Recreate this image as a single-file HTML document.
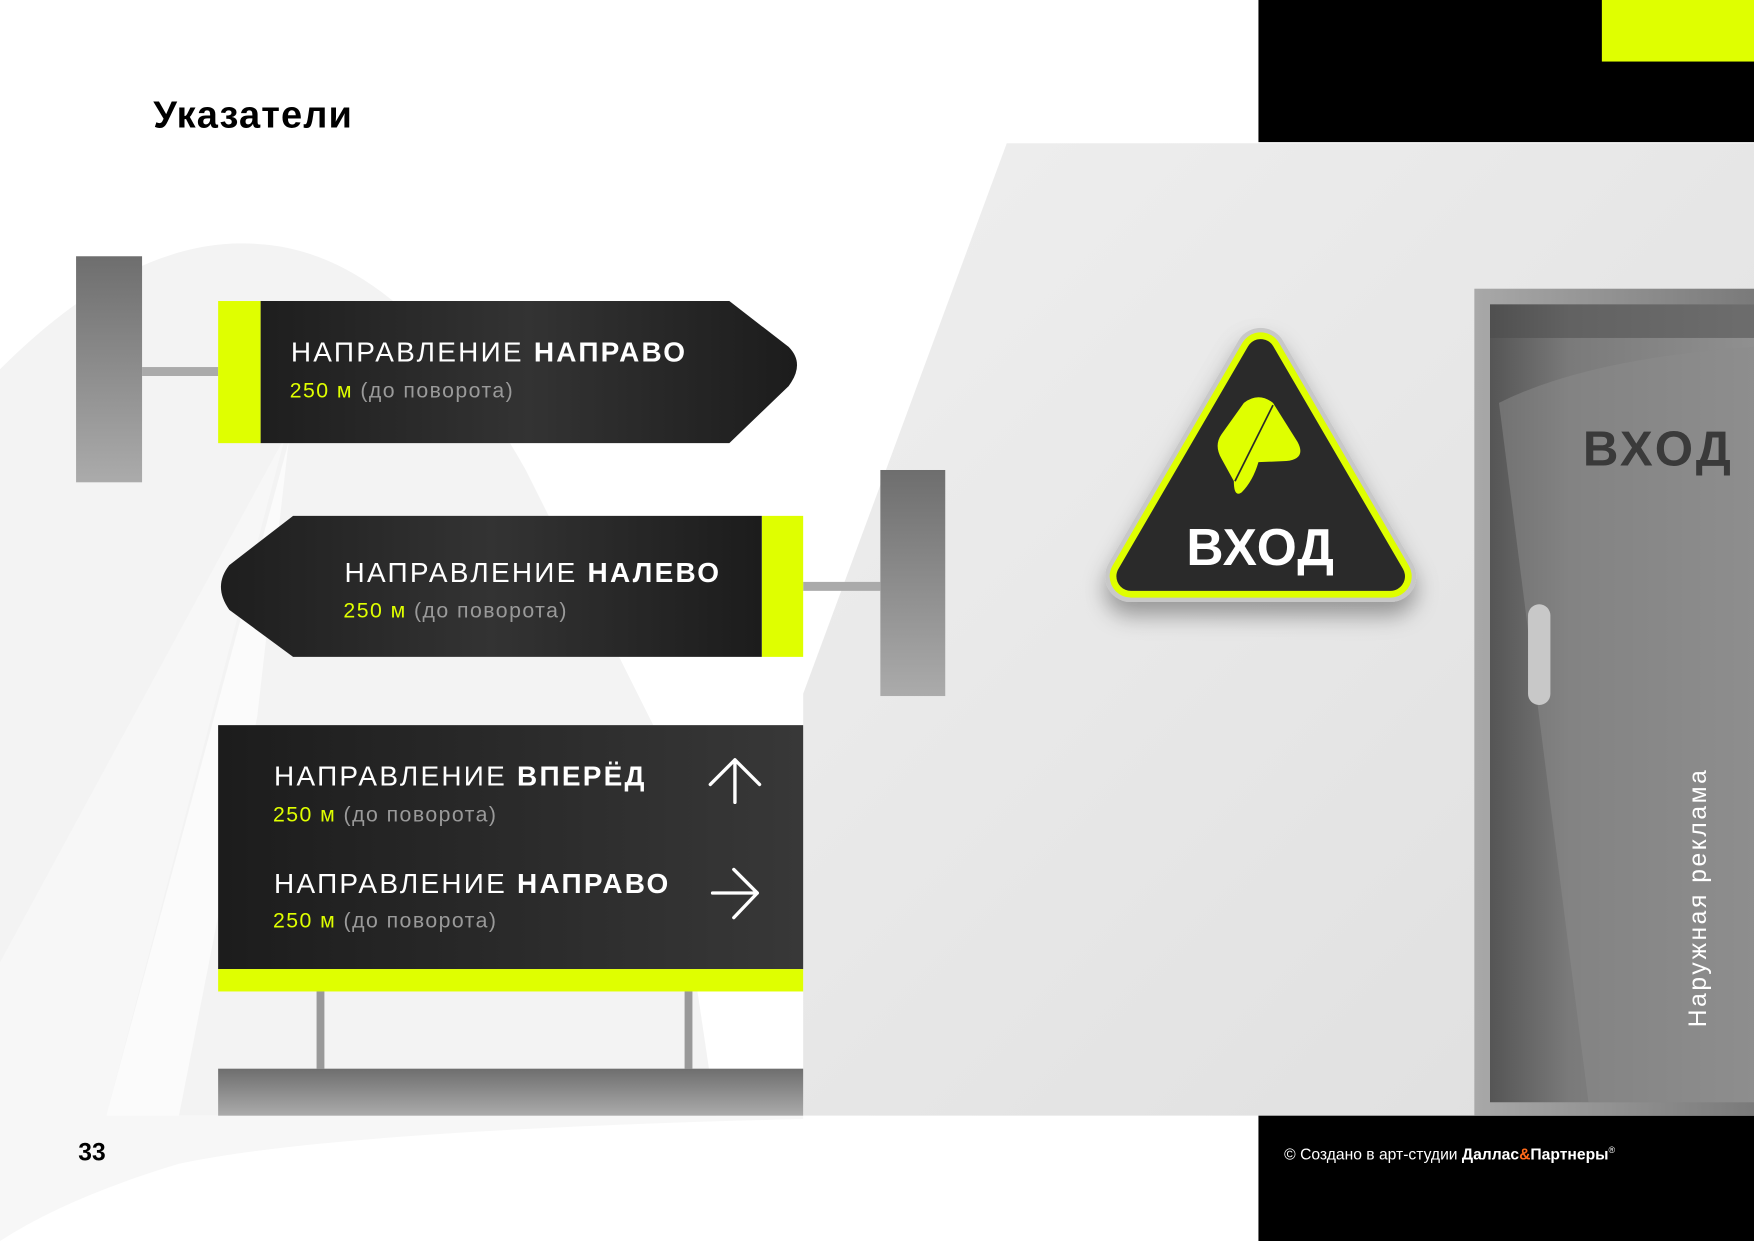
<!DOCTYPE html>
<html><head><meta charset="utf-8"><style>
html,body{margin:0;padding:0;background:#fff;overflow:hidden}
#w{width:1568px;height:1109px;position:relative;transform:scale(1.11862,1.11904);transform-origin:0 0;font-family:"Liberation Sans","DejaVu Sans",sans-serif}
.a{position:absolute}
.t1{position:absolute;color:#fff;font-size:25px;white-space:nowrap;letter-spacing:2px}
.t1 b{font-weight:bold}
.t2{position:absolute;color:#9a9a9a;font-size:19px;white-space:nowrap;letter-spacing:1.3px}
.t2 span{color:#dfff00}
</style></head><body><div id="w">
<svg class="a" style="left:0;top:0" width="1568" height="1109">
<defs>
<linearGradient id="wall" x1="0" y1="0" x2="1" y2="1"><stop offset="0" stop-color="#efefef"/><stop offset="1" stop-color="#dedede"/></linearGradient>
<linearGradient id="dk" x1="0" y1="0" x2="1" y2="0"><stop offset="0" stop-color="#1e1e1e"/><stop offset="0.5" stop-color="#333"/><stop offset="1" stop-color="#1c1c1c"/></linearGradient>
<linearGradient id="dk2" x1="0" y1="0" x2="1" y2="0"><stop offset="0" stop-color="#1c1c1c"/><stop offset="1" stop-color="#383838"/></linearGradient>
<linearGradient id="base" x1="0" y1="0" x2="0" y2="1"><stop offset="0" stop-color="#6e6e6e"/><stop offset="1" stop-color="#ababab"/></linearGradient>
<linearGradient id="door" x1="0" y1="0" x2="1" y2="0"><stop offset="0" stop-color="#555"/><stop offset="0.3" stop-color="#7a7a7a"/><stop offset="1" stop-color="#909090"/></linearGradient>
<linearGradient id="frame" x1="0" y1="0" x2="1" y2="0"><stop offset="0" stop-color="#a8a8a8"/><stop offset="1" stop-color="#7a7a7a"/></linearGradient>
<radialGradient id="tri" cx="0.5" cy="0.6" r="0.5"><stop offset="0" stop-color="#383838"/><stop offset="1" stop-color="#222"/></radialGradient>
<filter id="sh" x="-30%" y="-30%" width="160%" height="170%"><feDropShadow dx="0" dy="12" stdDeviation="10" flood-color="#000" flood-opacity="0.35"/></filter>
</defs>
<path d="M0 330 Q120 210 230 218 Q360 225 470 420 L590 660 L640 997 L0 997 Z" fill="#f3f3f3"/>
<path d="M255 390 L0 860 L0 997 L95 997 Z" fill="#f7f7f7"/>
<path d="M258 395 L230 640 L160 997 L95 997 Z" fill="#fbfbfb"/>
<path d="M0 997 L718 997 L718 1000 Q300 1010 160 1040 Q60 1070 0 1109 Z" fill="#f7f7f7"/>
<path d="M900 128 L1568 128 L1568 997 L718 997 L718 620 Z" fill="url(#wall)"/>
<rect x="1125" y="0" width="443" height="127" fill="#000"/>
<rect x="1432" y="0" width="136" height="55" fill="#dfff00"/>
<rect x="1125" y="997" width="443" height="112" fill="#000"/>
<rect x="1318" y="258" width="250" height="739" fill="url(#frame)"/>
<rect x="1332" y="272" width="236" height="713" fill="url(#door)"/>
<path d="M1340 360 Q1420 320 1568 310 L1568 985 L1420 985 Z" fill="#8c8c8c" opacity="0.5"/>
<rect x="1332" y="272" width="236" height="30" fill="#4a4a4a" opacity="0.5"/>
<rect x="1366" y="540" width="20" height="90" rx="10" fill="#c8c8c8"/>
<text x="1415" y="416" font-size="44" font-weight="bold" fill="#3a3a3a" font-family="Liberation Sans,sans-serif" letter-spacing="3">ВХОД</text>
<text transform="translate(1525,918) rotate(-90)" font-size="22" fill="#fff" font-family="Liberation Sans,sans-serif" letter-spacing="2.3">Наружная реклама</text>
<rect x="68" y="229" width="59" height="202" fill="url(#base)"/>
<rect x="127" y="328" width="68" height="8" fill="#aaa"/>
<rect x="195" y="269" width="38" height="127" fill="#dfff00"/>
<path d="M233 269 L652 269 L705 310 Q720 325 705 345 L652 396 L233 396 Z" fill="url(#dk)"/>
<rect x="787" y="420" width="58" height="202" fill="url(#base)"/>
<rect x="718" y="520" width="69" height="8" fill="#aaa"/>
<rect x="681" y="461" width="37" height="126" fill="#dfff00"/>
<path d="M681 461 L262 461 L205 505 Q190 524 205 545 L262 587 L681 587 Z" fill="url(#dk)"/>
<rect x="195" y="648" width="523" height="218" fill="url(#dk2)"/>
<rect x="195" y="866" width="523" height="20" fill="#dfff00"/>
<rect x="283" y="886" width="7" height="69" fill="#999"/>
<rect x="612" y="886" width="7" height="69" fill="#999"/>
<rect x="195" y="955" width="523" height="42" fill="url(#base)"/>
<g stroke="#fff" stroke-width="3" fill="none" stroke-linecap="round" stroke-linejoin="round">
<path d="M657 717 L657 679 M635 701 L657 679 L679 701"/>
<path d="M637 798 L677 798 M656 777 L677 798 L656 820"/>
</g>
<g filter="url(#sh)">
<path d="M1127 316 L1243 515 L1011 515 Z" fill="url(#tri)" stroke="#c8c8c8" stroke-width="46" stroke-linejoin="round"/>
<path d="M1127 316 L1243 515 L1011 515 Z" fill="url(#tri)" stroke="#dfff00" stroke-width="38" stroke-linejoin="round"/>
<path d="M1127 316 L1243 515 L1011 515 Z" fill="#2a2a2a" stroke="#2a2a2a" stroke-width="26" stroke-linejoin="round"/>
</g>
<path d="M1112 360 Q1125 350 1138 360 L1160 395 Q1168 410 1150 412 L1125 413 Q1120 430 1110 440 Q1103 445 1103 430 L1092 410 Q1085 398 1092 388 Z" fill="#dfff00"/>
<path d="M1138 362 L1104 430" stroke="#2a2a2a" stroke-width="1.5"/>
<text x="1127" y="505" text-anchor="middle" font-size="46" font-weight="bold" fill="#fff" font-family="Liberation Sans,sans-serif" letter-spacing="1">ВХОД</text>
</svg>
<div class="a" style="left:137px;top:84px;font-size:34px;font-weight:bold;color:#000;letter-spacing:1px">Указатели</div>
<div class="t1" style="left:260px;top:301px">НАПРАВЛЕНИЕ <b>НАПРАВО</b></div>
<div class="t2" style="left:259px;top:339px"><span>250 м</span> (до поворота)</div>
<div class="t1" style="left:308px;top:498px">НАПРАВЛЕНИЕ <b>НАЛЕВО</b></div>
<div class="t2" style="left:307px;top:536px"><span>250 м</span> (до поворота)</div>
<div class="t1" style="left:245px;top:680px">НАПРАВЛЕНИЕ <b>ВПЕРЁД</b></div>
<div class="t2" style="left:244px;top:718px"><span>250 м</span> (до поворота)</div>
<div class="t1" style="left:245px;top:776px">НАПРАВЛЕНИЕ <b>НАПРАВО</b></div>
<div class="t2" style="left:244px;top:813px"><span>250 м</span> (до поворота)</div>
<div class="a" style="left:70px;top:1017px;font-size:22px;font-weight:bold;color:#000">33</div>
<div class="a" style="left:1148px;top:1023px;font-size:14px;color:#fff;white-space:nowrap">© Создано в арт-студии <b>Даллас<span style="color:#ff6a1a">&amp;</span>Партнеры</b><sup style="font-size:8px">®</sup></div>
</div></body></html>
